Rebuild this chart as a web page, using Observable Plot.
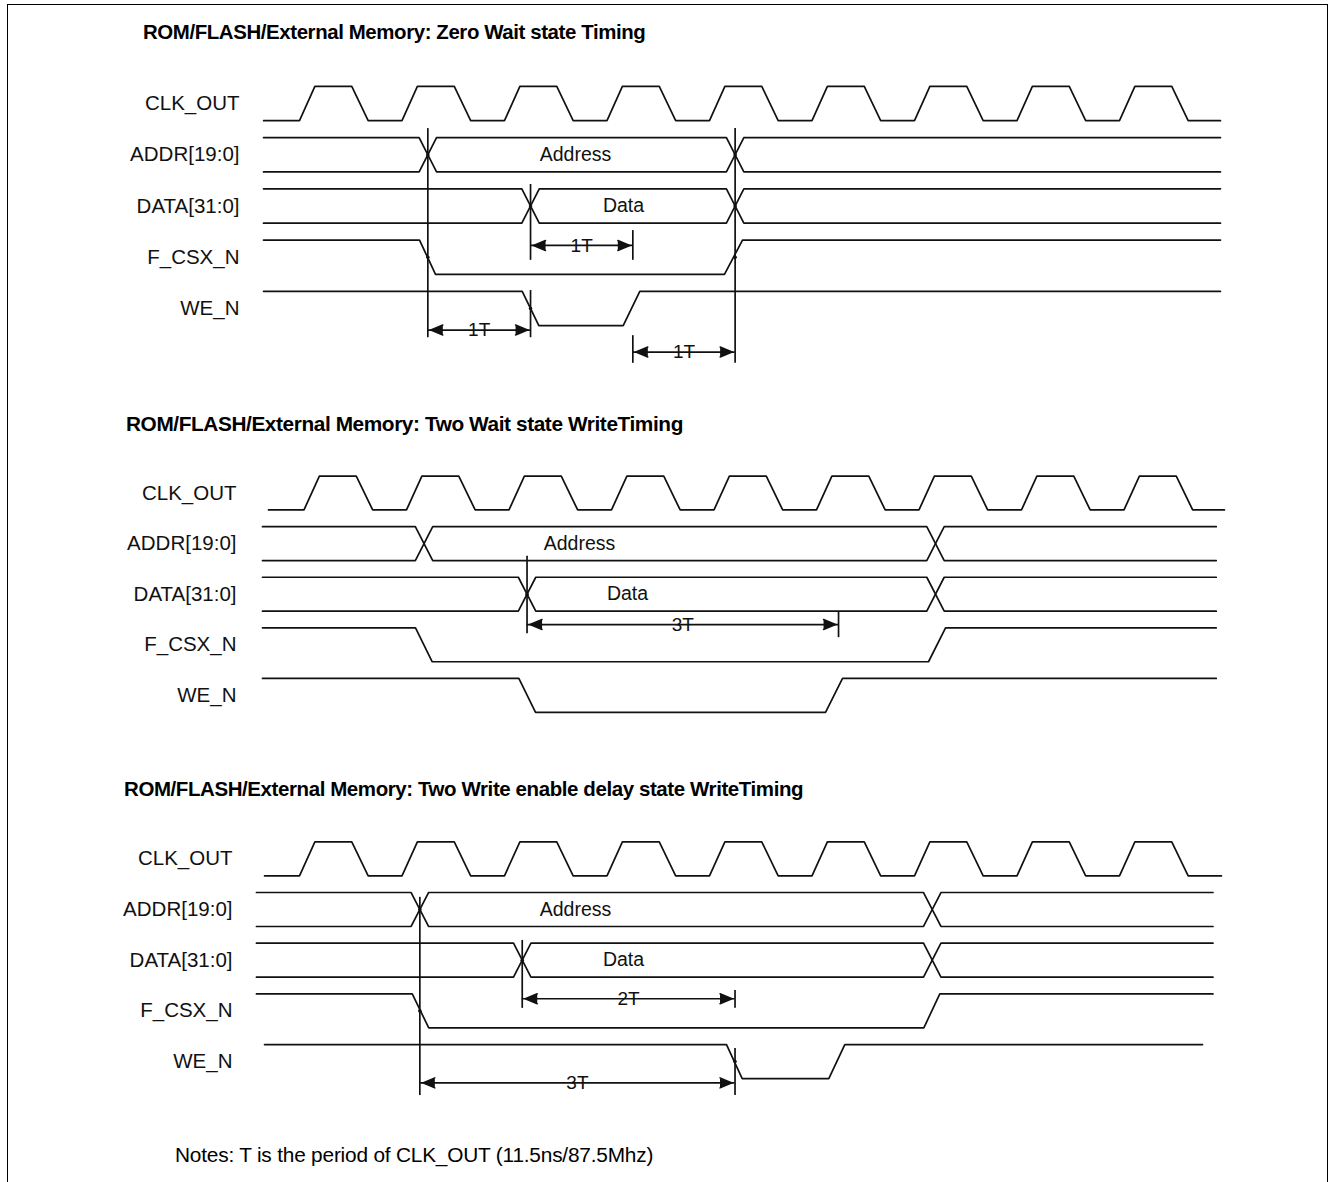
<!DOCTYPE html>
<html>
<head>
<meta charset="utf-8">
<script src="https://cdn.jsdelivr.net/npm/d3@7"></script>
<script src="https://cdn.jsdelivr.net/npm/@observablehq/plot@0.6"></script>
<style>
  html, body { margin: 0; padding: 0; background: #fff; overflow: hidden; }
  #page { position: relative; width: 1331px; height: 1182px; overflow: hidden; font-family: "Liberation Sans", Arial, sans-serif; color: #000; }
  #frame { position: absolute; left: 7px; top: 4px; width: 1321px; height: 1300px; border: 1.5px solid #000; box-sizing: border-box; }
  .title { position: absolute; font-weight: bold; font-size: 18px; white-space: nowrap; letter-spacing: -0.4px; }
  .note { position: absolute; font-size: 18px; white-space: nowrap; letter-spacing: -0.2px; }
  .panel { position: absolute; left: 0; }
</style>
</head>
<body>
<div id="page"><div id="frame"></div></div>
<script>
// ---------------- data ----------------
const signalNames = ["CLK_OUT", "ADDR[19:0]", "DATA[31:0]", "F_CSX_N", "WE_N"];
const panelTitles = [
  "ROM/FLASH/External Memory: Zero Wait state Timing",
  "ROM/FLASH/External Memory: Two Wait state WriteTiming",
  "ROM/FLASH/External Memory: Two Write enable delay state WriteTiming"
];
const noteText = "Notes: T is the period of  CLK_OUT (11.5ns/87.5Mhz)";
const busLabels = ["Address", "Data"];
// clock cycle shape in units of T: rise start, high reached, fall start, low reached
const clockShape = [0, 0.15, 0.51, 0.67];
const crossHalf = 0.085; // half width of a bus crossing, in T

// Panel 1 : zero wait state (times in T)
const p1ClockRises = [0, 1, 2, 3, 4, 5, 6, 7, 8];
const p1ClockSpan = [-0.35, 8.985];
const p1AddrSpan = [-0.351, 8.985];
const p1AddrCross = [1.252, 4.25];
const p1DataSpan = [-0.351, 8.985];
const p1DataCross = [2.254, 4.25];
const p1BusLabelAt = [2.693, 3.161];
const p1Fcsx = [[-0.351, 1], [1.171, 1], [1.327, 0], [4.146, 0], [4.322, 1], [8.985, 1]];
const p1We = [[-0.351, 1], [2.173, 1], [2.335, 0], [3.158, 0], [3.32, 1], [8.985, 1]];
const p1Guides = [[1.252, 0.49, 4.57], [4.25, 0.49, 5.07], [2.254, 1.58, 3.06], [2.254, 3.65, 4.57], [3.252, 2.48, 3.06], [3.252, 4.53, 5.07]];
const p1Dims = [[2.254, 3.252, 2.77, "1T"], [1.252, 2.254, 4.42, "1T"], [3.252, 4.25, 4.85, "1T"]];
const p1Junctions = [[1.252, 1], [4.25, 1], [2.254, 2], [4.25, 2], [1.252, 3], [4.25, 3], [2.254, 4]];

// Panel 2 : two wait state write
const p2ClockRises = [0, 1, 2, 3, 4, 5, 6, 7, 8];
const p2ClockSpan = [-0.346, 8.98];
const p2AddrSpan = [-0.405, 8.9];
const p2AddrCross = [1.171, 6.161];
const p2DataSpan = [-0.405, 8.9];
const p2DataCross = [2.176, 6.161];
const p2BusLabelAt = [2.688, 3.156];
const p2Fcsx = [[-0.405, 1], [1.088, 1], [1.251, 0], [6.093, 0], [6.259, 1], [8.9, 1]];
const p2We = [[-0.405, 1], [2.096, 1], [2.259, 0], [5.088, 0], [5.254, 1], [8.9, 1]];
const p2Guides = [[2.176, 1.25, 2.78], [5.215, 2.36, 2.86]];
const p2Dims = [[2.176, 5.215, 2.6, "3T"]];
const p2Junctions = [[2.176, 2]];

// Panel 3 : two write-enable delay state write
const p3ClockRises = [0, 1, 2, 3, 4, 5, 6, 7, 8];
const p3ClockSpan = [-0.341, 8.995];
const p3AddrSpan = [-0.42, 8.912];
const p3AddrCross = [1.174, 6.173];
const p3DataSpan = [-0.42, 8.912];
const p3DataCross = [2.173, 6.173];
const p3BusLabelAt = [2.693, 3.161];
const p3Fcsx = [[-0.42, 1], [1.1, 1], [1.261, 0], [6.091, 0], [6.247, 1], [8.912, 1]];
const p3We = [[-0.341, 1], [4.166, 1], [4.319, 0], [5.164, 0], [5.32, 1], [8.81, 1]];
const p3Guides = [[1.174, 0.76, 4.67], [2.173, 1.61, 2.95], [4.249, 2.6, 2.95], [4.249, 3.74, 4.67]];
const p3Dims = [[2.173, 4.249, 2.76, "2T"], [1.174, 4.249, 4.42, "3T"]];
const p3Junctions = [[1.174, 1], [2.173, 2], [1.174, 3], [4.249, 4]];

// ---------------- layout (pixels) ----------------
const layout = [
  {top: 60,  height: 320, x0: 299,   period: 102.5, row0: 103,   rowStep: 51.25, labelRight: 239, titleX: 143, titleY: 32,  titleW: 500},
  {top: 460, height: 270, x0: 303.5, period: 102.5, row0: 492.5, rowStep: 50.6,  labelRight: 236, titleX: 126, titleY: 424, titleW: 554},
  {top: 830, height: 280, x0: 299,   period: 102.5, row0: 858.3, rowStep: 50.7,  labelRight: 232, titleX: 124, titleY: 789, titleW: 676}
];
const noteLayout = {x: 175, y: 1155, w: 477};
const amp = 0.335;
const ink = "#111";
const lw = 1.7;

const panels = [
  {clockRises: p1ClockRises, clockSpan: p1ClockSpan, addrSpan: p1AddrSpan, addrCross: p1AddrCross, dataSpan: p1DataSpan, dataCross: p1DataCross, labelAt: p1BusLabelAt, fcsx: p1Fcsx, we: p1We, guides: p1Guides, dims: p1Dims, junctions: p1Junctions},
  {clockRises: p2ClockRises, clockSpan: p2ClockSpan, addrSpan: p2AddrSpan, addrCross: p2AddrCross, dataSpan: p2DataSpan, dataCross: p2DataCross, labelAt: p2BusLabelAt, fcsx: p2Fcsx, we: p2We, guides: p2Guides, dims: p2Dims, junctions: p2Junctions},
  {clockRises: p3ClockRises, clockSpan: p3ClockSpan, addrSpan: p3AddrSpan, addrCross: p3AddrCross, dataSpan: p3DataSpan, dataCross: p3DataCross, labelAt: p3BusLabelAt, fcsx: p3Fcsx, we: p3We, guides: p3Guides, dims: p3Dims, junctions: p3Junctions}
];

// ---------------- build ----------------
const lvl = (row, level) => row + (level ? -amp : amp);

function clockPoints(p, row) {
  const pts = [{t: p.clockSpan[0], y: lvl(row, 0), id: "clk"}];
  for (const r of p.clockRises) {
    pts.push({t: r + clockShape[0], y: lvl(row, 0), id: "clk"});
    pts.push({t: r + clockShape[1], y: lvl(row, 1), id: "clk"});
    pts.push({t: r + clockShape[2], y: lvl(row, 1), id: "clk"});
    pts.push({t: r + clockShape[3], y: lvl(row, 0), id: "clk"});
  }
  pts.push({t: p.clockSpan[1], y: lvl(row, 0), id: "clk"});
  return pts;
}
function busPoints(span, crosses, row, name) {
  const out = [];
  for (const start of [1, 0]) {
    let cur = start;
    const id = name + start;
    out.push({t: span[0], y: lvl(row, cur), id});
    for (const c of crosses) {
      out.push({t: c - crossHalf, y: lvl(row, cur), id});
      cur = 1 - cur;
      out.push({t: c + crossHalf, y: lvl(row, cur), id});
    }
    out.push({t: span[1], y: lvl(row, cur), id});
  }
  return out;
}
function digitalPoints(list, row, name) {
  return list.map(([t, l]) => ({t, y: lvl(row, l), id: name}));
}

const page = document.getElementById("page");

panels.forEach((p, k) => {
  const L = layout[k];
  const wave = [
    ...clockPoints(p, 0),
    ...busPoints(p.addrSpan, p.addrCross, 1, "addr"),
    ...busPoints(p.dataSpan, p.dataCross, 2, "data"),
    ...digitalPoints(p.fcsx, 3, "fcsx"),
    ...digitalPoints(p.we, 4, "we")
  ];
  const busText = [
    {t: p.labelAt[0], y: 1, text: busLabels[0]},
    {t: p.labelAt[1], y: 2, text: busLabels[1]}
  ];
  const guides = p.guides.map(([t, r1, r2]) => ({t, r1, r2}));
  const dims = p.dims.map(([from, to, row, label]) => ({from, to, row, label, mid: (from + to) / 2}));
  const names = signalNames.map((name, i) => ({name, i}));
  const junctions = p.junctions.map(([t, row]) => ({t, row}));

  const chart = Plot.plot({
    width: 1331,
    height: L.height,
    marginLeft: 0, marginRight: 0, marginTop: 0, marginBottom: 0,
    x: {type: "linear", domain: [0, 1], range: [L.x0, L.x0 + L.period], axis: null},
    y: {type: "linear", domain: [0, 1], range: [L.row0 - L.top, L.row0 - L.top + L.rowStep], axis: null},
    style: {fontFamily: "'Liberation Sans', Arial, sans-serif", fontSize: "19px", color: ink, background: "transparent", overflow: "visible"},
    marks: [
      Plot.line(wave, {x: "t", y: "y", z: "id", stroke: ink, strokeWidth: lw, strokeLinejoin: "miter"}),
      Plot.ruleX(guides, {x: "t", y1: "r1", y2: "r2", stroke: ink, strokeWidth: lw}),
      Plot.dot(junctions, {x: "t", y: "row", r: 1.8, fill: ink}),
      Plot.ruleY(dims, {y: "row", x1: "from", x2: "to", stroke: ink, strokeWidth: lw}),
      Plot.vector(dims, {x: "to", y: "row", rotate: 90, length: 12, r: 5, shape: "spike", anchor: "end", dx: -3, fill: ink, stroke: ink, strokeWidth: 1.5}),
      Plot.vector(dims, {x: "from", y: "row", rotate: -90, length: 12, r: 5, shape: "spike", anchor: "end", dx: 3, fill: ink, stroke: ink, strokeWidth: 1.5}),
      Plot.text(dims, {x: "mid", y: "row", text: "label", fontSize: 19, fill: ink}),
      Plot.text(busText, {x: "t", y: "y", text: "text", fontSize: 19.5, fill: ink}),
      Plot.text(names, {y: "i", text: "name", frameAnchor: "left", dx: L.labelRight, textAnchor: "end", fontSize: 20.5, fill: ink})
    ]
  });
  chart.classList.add("panel");
  chart.style.top = L.top + "px";
  chart.style.position = "absolute";
  chart.style.left = "0px";
  page.appendChild(chart);

  const title = document.createElement("div");
  title.className = "title";
  title.textContent = panelTitles[k];
  title.style.left = L.titleX + "px";
  page.appendChild(title);
  fitWidth(title, L.titleW, L.titleY);
});

const note = document.createElement("div");
note.className = "note";
note.textContent = noteText;
note.style.left = noteLayout.x + "px";
page.appendChild(note);
fitWidth(note, noteLayout.w, noteLayout.y);

// scale the font so the text spans the same width as in the reference
function fitWidth(el, target, centerY) {
  const fs = parseFloat(getComputedStyle(el).fontSize);
  const w = el.getBoundingClientRect().width;
  const size = fs * target / w;
  el.style.fontSize = size + "px";
  el.style.lineHeight = "1";
  const h = el.getBoundingClientRect().height;
  el.style.top = (centerY - h / 2) + "px";
}
</script>
</body>
</html>
